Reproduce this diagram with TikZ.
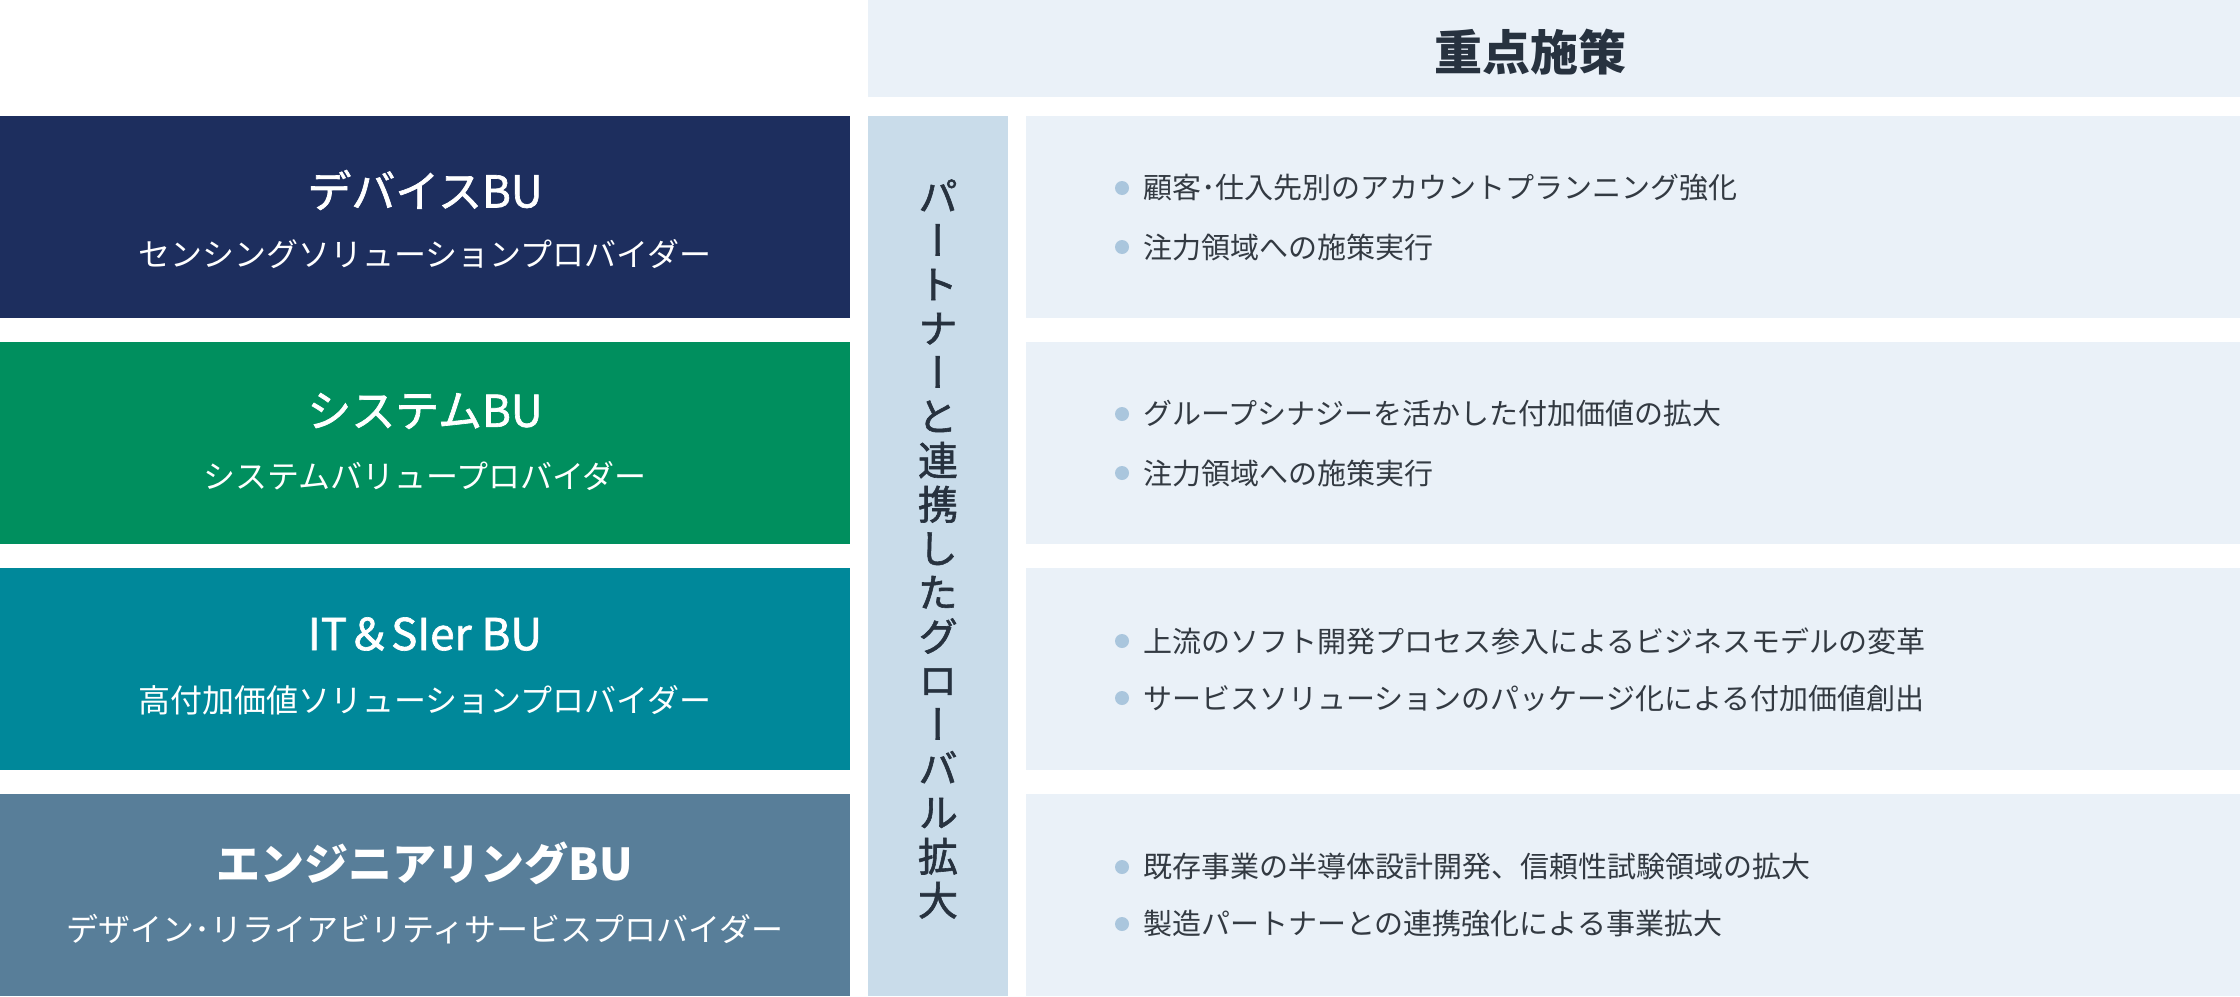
\documentclass[tikz,border=0pt]{standalone}
\usepackage{fontspec}
\setmainfont{Noto Sans CJK JP}
\newfontfamily\vjp[RawFeature=+vert,FakeBold=1.5]{Noto Sans CJK JP}
\newfontfamily\jpmed[FakeBold=1.5]{Noto Sans CJK JP}
\definecolor{navy}{HTML}{1D2E5E}
\definecolor{grn}{HTML}{008F5E}
\definecolor{teal}{HTML}{00889A}
\definecolor{slate}{HTML}{587E99}
\definecolor{light}{HTML}{EAF1F8}
\definecolor{strip}{HTML}{C9DCEA}
\definecolor{ink}{HTML}{27323F}
\definecolor{itemink}{HTML}{333A42}
\definecolor{dot}{HTML}{AAC6DD}
\tikzset{
  bubox/.style={draw=none, minimum width=850pt, minimum height=202pt, inner sep=0pt},
  pbox/.style={draw=none, fill=light, minimum width=1214pt, minimum height=202pt, inner sep=0pt},
  butitle/.style={text=white, inner sep=0pt, font=\jpmed\fontsize{44}{50}\selectfont},
  busub/.style={text=white, inner sep=0pt, font=\fontsize{32}{38}\selectfont},
  dotmark/.style={circle, fill=dot, draw=none, minimum size=14pt, inner sep=0pt},
  item/.style={anchor=west, text=itemink, inner sep=0pt, font=\fontsize{29}{34}\selectfont},
}
\begin{document}
\begin{tikzpicture}[x=1pt,y=-1pt]
\useasboundingbox (0,0) rectangle (2240,996);
% header
\node[fill=light, minimum width=1372pt, minimum height=97pt, inner sep=0pt] (hdr) at (1554,48.5) {};
\node[text=ink, inner sep=0pt, font=\fontsize{48}{54}\selectfont\bfseries] (hdrtext) at (1530,52) {重点施策};
% vertical strip
\node[fill=strip, minimum width=140pt, minimum height=880pt, inner sep=0pt] (vstrip) at (938,556) {};
\node[text=ink, inner sep=0pt, align=center, font=\vjp\fontsize{40}{44}\selectfont] (vtext) at (938,549)
 {パ\\ー\\ト\\ナ\\ー\\と\\連\\携\\し\\た\\グ\\ロ\\ー\\バ\\ル\\拡\\大};
% BU boxes
\node[bubox, fill=navy] (bu1) at (425,217) {};
\node[bubox, fill=grn] (bu2) at (425,442.5) {};
\node[bubox, fill=teal] (bu3) at (425,668.5) {};
\node[bubox, fill=slate] (bu4) at (425,894.5) {};
\node[butitle] (t1) at (425,190) {デバイスBU};
\node[busub] (s1) at (425,254) {センシングソリューションプロバイダー};
\node[butitle] (t2) at (425,411) {システムBU};
\node[busub] (s2) at (425,476) {システムバリュープロバイダー};
\node[butitle] (t3) at (425,634) {IT＆SIer BU};
\node[busub] (s3) at (425,700) {高付加価値ソリューションプロバイダー};
\node[butitle, font=\fontsize{44}{50}\selectfont\bfseries] (t4) at (425,863) {エンジニアリングBU};
\node[busub] (s4) at (425,929) {デザイン･リライアビリティサービスプロバイダー};
% policy boxes
\node[pbox] (p1) at (1633,217) {};
\node[pbox] (p2) at (1633,442.5) {};
\node[pbox] (p3) at (1633,668.5) {};
\node[pbox] (p4) at (1633,894.5) {};
% items
\node[dotmark] (d11) at (1122,188) {};
\node[item] (i11) at (1143,188) {顧客･仕入先別のアカウントプランニング強化};
\node[dotmark] (d12) at (1122,247) {};
\node[item] (i12) at (1143,247) {注力領域への施策実行};
\node[dotmark] (d21) at (1122,414) {};
\node[item] (i21) at (1143,414) {グループシナジーを活かした付加価値の拡大};
\node[dotmark] (d22) at (1122,473) {};
\node[item] (i22) at (1143,473) {注力領域への施策実行};
\node[dotmark] (d31) at (1122,641) {};
\node[item] (i31) at (1143,641) {上流のソフト開発プロセス参入によるビジネスモデルの変革};
\node[dotmark] (d32) at (1122,698) {};
\node[item] (i32) at (1143,698) {サービスソリューションのパッケージ化による付加価値創出};
\node[dotmark] (d41) at (1122,867) {};
\node[item] (i41) at (1143,867) {既存事業の半導体設計開発、信頼性試験領域の拡大};
\node[dotmark] (d42) at (1122,924) {};
\node[item] (i42) at (1143,924) {製造パートナーとの連携強化による事業拡大};
\end{tikzpicture}
\end{document}
